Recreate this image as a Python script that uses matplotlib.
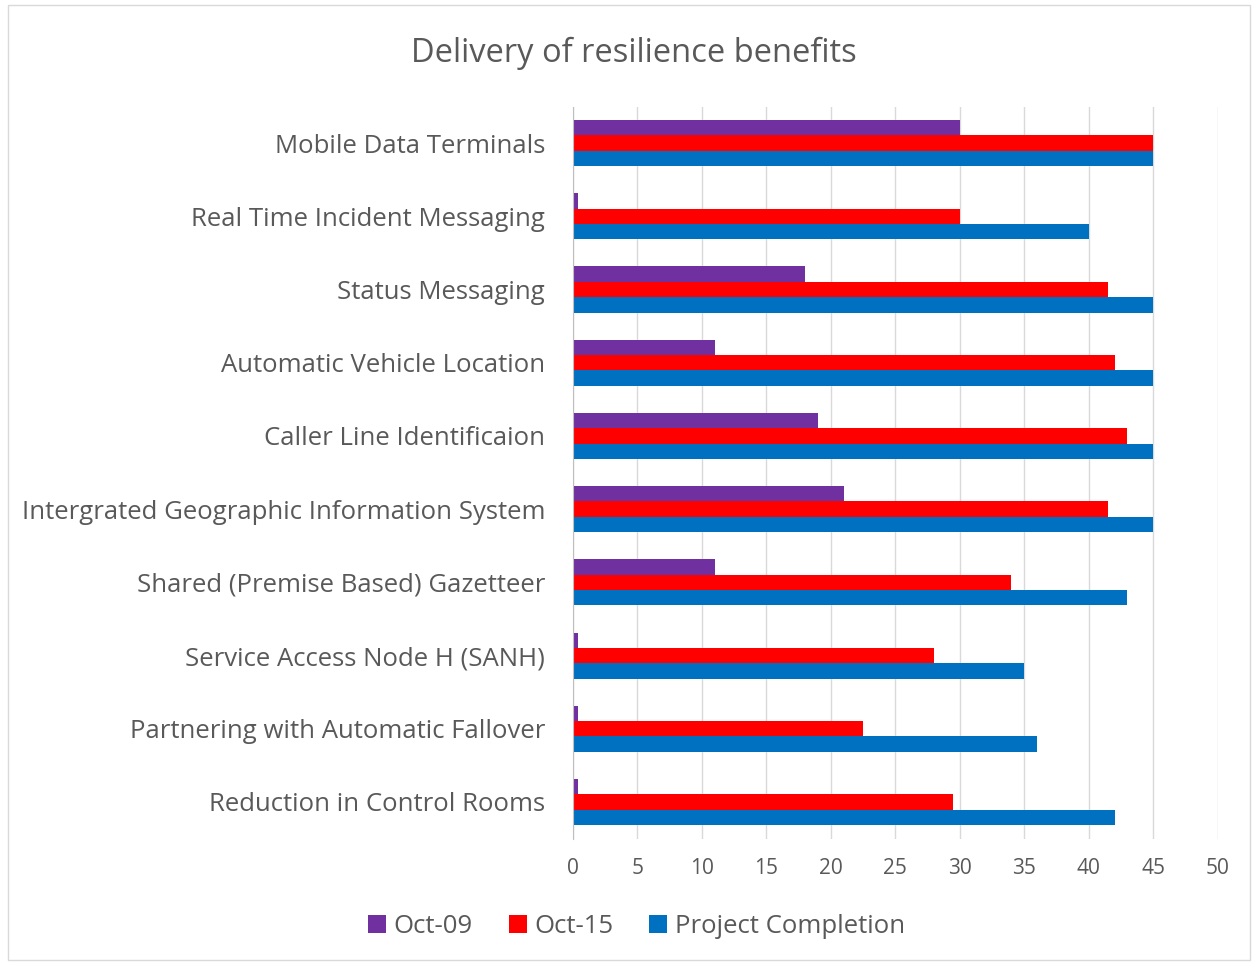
import numpy as np
import matplotlib.pyplot as plt
from matplotlib.patches import Rectangle

# Datos
categorias = ['Mobile Data Terminals', 'Real Time Incident Messaging', 'Status Messaging',
              'Automatic Vehicle Location', 'Caller Line Identificaion',
              'Intergrated Geographic Information System', 'Shared (Premise Based) Gazetteer',
              'Service Access Node H (SANH)', 'Partnering with Automatic Fallover',
              'Reduction in Control Rooms']
oct_09 = [30, 0.4, 18, 11, 19, 21, 11, 0.4, 0.4, 0.4]
oct_15 = [45, 30, 41.5, 42, 43, 41.5, 34, 28, 22.5, 29.5]
proyecto = [45, 40, 45, 45, 45, 45, 43, 35, 36, 42]
series = ['Oct-09', 'Oct-15', 'Project Completion']
colores = ['#7030a0', '#ff0000', '#0070c0']

plt.rcParams['font.family'] = ['Open Sans', 'DejaVu Sans']
gris = '#595959'

fig = plt.figure(figsize=(12.58, 9.65), dpi=100)
fig.patches.append(Rectangle((0.006, 0.005), 0.988, 0.99, transform=fig.transFigure,
                             fill=False, edgecolor='#d9d9d9', linewidth=1))
ax = fig.add_axes([0.4555, 0.131, 0.5125, 0.7586])

y = np.arange(len(categorias))
alto = 0.21
for i, (vals, nombre, col) in enumerate(zip([oct_09, oct_15, proyecto], series, colores)):
    ax.barh(y + (i - 1) * alto, vals, height=alto, color=col, label=nombre)

ax.set_ylim(len(categorias) - 0.5, -0.5)
ax.set_xlim(0, 50)
ax.set_xticks(range(0, 51, 5))
ax.set_yticks(y)
ax.set_yticklabels(categorias, fontsize=18.5, color=gris)
ax.tick_params(axis='x', labelsize=15, colors=gris, length=0, pad=14)
ax.tick_params(axis='y', length=0, pad=20)
ax.grid(axis='x', color='#d9d9d9', linewidth=1)
ax.set_axisbelow(True)
for s in ['top', 'right', 'bottom']:
    ax.spines[s].set_visible(False)
ax.spines['left'].set_color('#bfbfbf')

fig.text(0.504, 0.945, 'Delivery of resilience benefits', ha='center', va='center',
         fontsize=23.5, color=gris)

fig.legend(loc='center', bbox_to_anchor=(0.506, 0.04), ncol=3, frameon=False,
           fontsize=18.5, labelcolor=gris, handlelength=0.7, handleheight=0.7,
           handletextpad=0.3, columnspacing=1.4)

plt.savefig('out.png', dpi=100)
